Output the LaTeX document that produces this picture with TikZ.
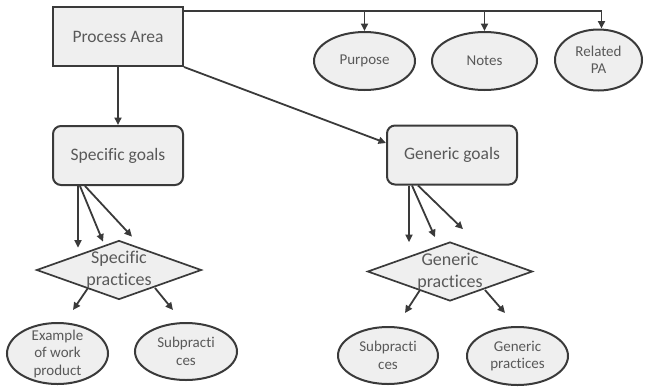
\documentclass[tikz,border=0pt]{standalone}
\usepackage{fontspec}
\setmainfont{Carlito}[Ligatures=NoCommon]
\usetikzlibrary{shapes.geometric, arrows.meta, positioning}

\definecolor{boxfill}{HTML}{EFEFEF}
\definecolor{boxline}{HTML}{3A3A3A}
\definecolor{boxtext}{HTML}{595959}

\begin{document}
\begin{tikzpicture}[
    x=1pt, y=-1pt,
    font=\fontsize{17.5}{21}\selectfont,
    box/.style={
        rectangle, draw=boxline, line width=2pt, fill=boxfill, text=boxtext,
        minimum width=130pt, minimum height=59pt, align=center, inner sep=2pt
    },
    goal/.style={
        box, rounded corners=8pt
    },
    leaf/.style={
        ellipse, draw=boxline, line width=2pt, fill=boxfill, text=boxtext,
        align=center, inner sep=0pt, font=\fontsize{15}{17.5}\selectfont
    },
    practice/.style={
        diamond, draw=boxline, line width=1.7pt, fill=boxfill,
        minimum width=165pt, minimum height=59pt, inner sep=0pt
    },
    over_text/.style={
        text=boxtext, align=center, inner sep=0pt
    },
    arrow/.style={
        -{Triangle[length=7.5pt, width=7pt]}, line width=1.8pt, draw=boxline
    }
]
    \useasboundingbox (0,0) rectangle (647,386);

    % =========================================================================
    % TOP: PROCESS AREA AND ITS PARTS
    % =========================================================================
    \node [box] (proc_area) at (118, 36.5) {Process Area};

    \node [leaf, minimum width=101pt, minimum height=58pt] (purpose) at (364.5, 61) {Purpose};
    \node [leaf, minimum width=105pt, minimum height=58pt] (notes) at (484.5, 61) {Notes};
    \node [leaf, minimum width=87pt, minimum height=61pt] (related_pa) at (598.5, 60) {Related\\PA};

    % =========================================================================
    % LEFT: SPECIFIC GOALS
    % =========================================================================
    \node [goal] (spec_goals) at (118, 155.5) {Specific goals};

    \node [practice] (spec_pr) at (119, 270) {};
    \node [over_text, font=\fontsize{18}{22}\selectfont] (spec_pr_text) at (spec_pr) {Specific\\practices};

    \node [leaf, minimum width=101pt, minimum height=61pt] (spec_example) at (57.5, 353.5) {};
    \node [over_text, font=\fontsize{15}{17.5}\selectfont] (spec_example_text) at (spec_example) {Example\\of work\\product};
    \node [leaf, minimum width=102pt, minimum height=57pt] (spec_sub) at (186, 351.5) {Subpracti\\ces};

    % =========================================================================
    % RIGHT: GENERIC GOALS
    % =========================================================================
    \node [goal] (gen_goals) at (452, 155) {Generic goals};

    \node [practice] (gen_pr) at (450, 271.5) {};
    \node [over_text, font=\fontsize{18}{22}\selectfont] (gen_pr_text) at (gen_pr) {Generic\\practices};

    \node [leaf, minimum width=100pt, minimum height=57pt] (gen_sub) at (388, 355.5) {Subpracti\\ces};
    \node [leaf, minimum width=101pt, minimum height=58pt] (gen_gp) at (517.5, 356) {Generic\\practices};

    % =========================================================================
    % FLOWS
    % =========================================================================
    % Process Area to its parts (bus along the top edge)
    \coordinate (bus) at ([yshift=-5pt]proc_area.north east);
    \draw [arrow] (bus) -| ([xshift=3pt]related_pa.north);
    \draw [arrow] (bus -| purpose.north) -- (purpose.north);
    \draw [arrow] (bus -| notes.north) -- (notes.north);

    % Process Area to goals
    \draw [arrow] (proc_area) -- (spec_goals);
    \draw [arrow] (proc_area.south east) -- ([yshift=12pt]gen_goals.west);

    % Specific goals to Specific practices
    \draw [arrow] ([xshift=-40pt]spec_goals.south) -- ([xshift=-41pt, yshift=-8pt]spec_pr.north);
    \draw [arrow] ([xshift=-38pt]spec_goals.south) -- ([xshift=-16pt, yshift=-2pt]spec_pr.north);
    \draw [arrow] ([xshift=-33pt]spec_goals.south) -- ([xshift=13pt, yshift=3pt]spec_pr.north);

    % Generic goals to Generic practices
    \draw [arrow] ([xshift=-43pt]gen_goals.south) -- ([xshift=-41pt, yshift=-1pt]gen_pr.north);
    \draw [arrow] ([xshift=-40pt]gen_goals.south) -- ([xshift=-15pt, yshift=4pt]gen_pr.north);
    \draw [arrow] ([xshift=-34pt]gen_goals.south) -- ([xshift=13pt, yshift=12pt]gen_pr.north);

    % Practices to their parts
    \draw [arrow] ([xshift=-31pt, yshift=-18pt]spec_pr.center) -- ([xshift=-46pt, yshift=-40pt]spec_pr.center);
    \draw [arrow] ([xshift=36pt, yshift=-18pt]spec_pr.center) -- ([xshift=54pt, yshift=-40pt]spec_pr.center);
    \draw [arrow] ([xshift=-30pt, yshift=-18.5pt]gen_pr.center) -- ([xshift=-45pt, yshift=-41.5pt]gen_pr.center);
    \draw [arrow] ([xshift=35pt, yshift=-18.5pt]gen_pr.center) -- ([xshift=55pt, yshift=-41.5pt]gen_pr.center);

\end{tikzpicture}
\end{document}
